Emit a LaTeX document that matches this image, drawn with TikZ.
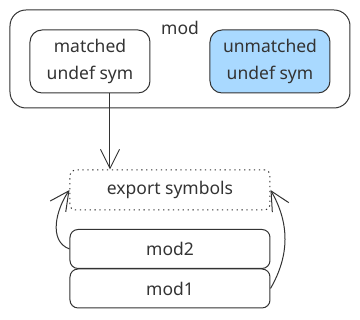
\documentclass[tikz,border=0pt]{standalone}
\usepackage{fontspec}
\setmainfont{Noto Sans}
\usetikzlibrary{arrows.meta,positioning,calc}
\definecolor{Ink}{HTML}{333333}
\definecolor{SymBlue}{HTML}{A9D9FF}

\begin{document}
\begin{tikzpicture}[x=1pt, y=1pt, >={Straight Barb[length=19pt,width=19pt]},
  font=\fontsize{17.5}{27}\selectfont, color=Ink, line width=1pt,
  symbox/.style={draw, rounded corners=12pt, minimum width=120pt, minimum height=63pt, align=center},
  modbox/.style={draw, rounded corners=8pt, minimum width=200pt, minimum height=39pt}]
\useasboundingbox (0,0) rectangle (360,320);
% outer module
\draw[rounded corners=16pt] (10,212) rectangle (350,310);
\node (mod) at (180,292) {mod};
\node[symbox] (matched) at (90,258.5) {matched\\undef sym};
\node[symbox, fill=SymBlue] (unmatched) at (270,258.5) {unmatched\\undef sym};
% exported table and stacked modules
\node[draw, dash pattern=on 1.3pt off 3.6pt, rounded corners=5pt, minimum width=200pt, minimum height=40pt] (export) at (170,130) {export symbols};
\node[modbox] (mod2) at (170,71) {mod2};
\node[modbox] (mod1) at (170,31.5) {mod1};
\draw[->] ([xshift=20pt]matched.south) -- ([xshift=20pt]matched.south |- export.north);
\draw[->] (mod2.west) to[out=160, in=235] (export.west);
\draw[->] (mod1.east) to[out=60, in=-60] (export.east);
\end{tikzpicture}
\end{document}
